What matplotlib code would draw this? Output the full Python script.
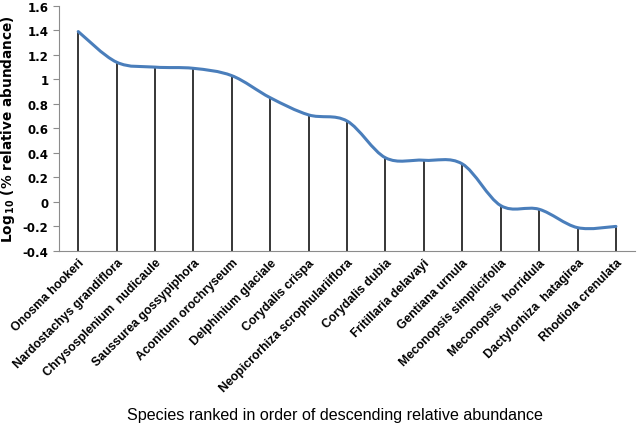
import numpy as np
import matplotlib.pyplot as plt
from matplotlib.path import Path
from matplotlib.patches import PathPatch

species = ["Onosma hookeri", "Nardostachys grandiflora", "Chrysosplenium  nudicaule",
           "Saussurea gossypiphora", "Aconitum orochryseum", "Delphinium glaciale",
           "Corydalis crispa", "Neopicrorhiza scrophulariiflora", "Corydalis dubia",
           "Fritillaria delavayi", "Gentiana urnula", "Meconopsis simplicifolia",
           "Meconopsis  horridula", "Dactylorhiza  hatagirea", "Rhodiola crenulata"]
log_abund = [1.39, 1.14, 1.10, 1.09, 1.03, 0.85, 0.71, 0.66, 0.36, 0.34, 0.31,
             -0.03, -0.06, -0.21, -0.20]

x = np.arange(len(species))
y = np.array(log_abund)

fig = plt.figure(figsize=(6.38, 4.27), dpi=100)
ax = fig.add_axes([0.0925, 0.41, 0.903, 0.574])
ax.set_xlim(-0.5, 14.5)
ax.set_ylim(-0.4, 1.6)

# drop lines
ax.vlines(x, -0.4, y, color="black", lw=1.1, zorder=2)

# smoothed line (Excel style bezier through the points)
verts = [(x[0], y[0])]
codes = [Path.MOVETO]
n = len(x)
for i in range(n - 1):
    p0 = (x[max(i - 1, 0)], y[max(i - 1, 0)])
    p1 = (x[i], y[i])
    p2 = (x[i + 1], y[i + 1])
    p3 = (x[min(i + 2, n - 1)], y[min(i + 2, n - 1)])
    c1 = (p1[0] + (p2[0] - p0[0]) / 6, p1[1] + (p2[1] - p0[1]) / 6)
    c2 = (p2[0] - (p3[0] - p1[0]) / 6, p2[1] - (p3[1] - p1[1]) / 6)
    verts += [c1, c2, p2]
    codes += [Path.CURVE4] * 3
ax.add_patch(PathPatch(Path(verts, codes), facecolor="none", edgecolor="#4A7EBB",
                       lw=2.2, zorder=3, capstyle="round"))

for s in ["top", "right"]:
    ax.spines[s].set_visible(False)
for s in ["left", "bottom"]:
    ax.spines[s].set_color("#8c8c8c")
ax.set_yticks(np.arange(-0.4, 1.61, 0.2))
ax.set_yticklabels(["-0.4", "-0.2", "0", "0.2", "0.4", "0.6", "0.8", "1", "1.2", "1.4", "1.6"],
                   fontweight="bold", fontsize=8.5)
ax.tick_params(axis="y", color="#8c8c8c", length=4)
ax.set_xticks(x)
ax.set_xticklabels(species, rotation=45, ha="right", rotation_mode="anchor",
                   fontweight="bold", fontsize=8.8, family="Liberation Sans")
ax.tick_params(axis="x", length=0, pad=4)
ax.set_ylabel("Log$_{\\,\\mathbf{10}}$ (% relative abundance)", fontweight="bold", fontsize=9.8)

fig.text(335 / 638, 1 - 416 / 427, "Species ranked in order of descending relative abundance",
         ha="center", va="center", fontsize=11.6, family="Liberation Sans")

fig.savefig("out.png")
